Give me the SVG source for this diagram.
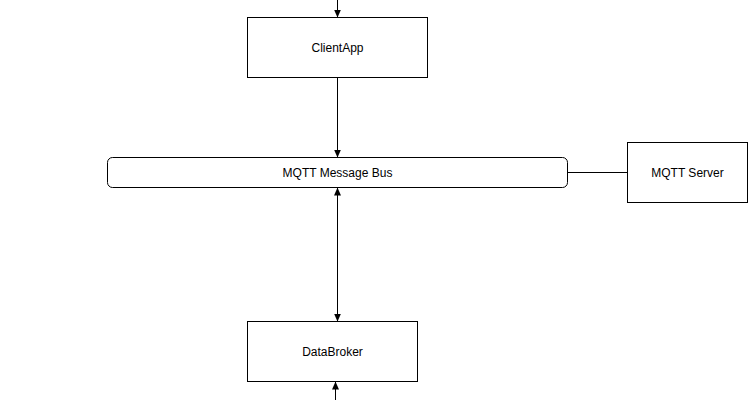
<svg xmlns="http://www.w3.org/2000/svg" width="748" height="400" viewBox="0 0 748 400">
<style>
.n{fill:#fff;stroke:#000;stroke-width:1}
.t{font-family:"Liberation Sans",Arial,sans-serif;font-size:12px;fill:#000;text-anchor:middle;dominant-baseline:central}
.c{stroke:#000;stroke-width:1;fill:none}
</style>
<defs>
<marker id="ah" viewBox="0 0 8 8" refX="8" refY="4" markerWidth="8" markerHeight="8" markerUnits="userSpaceOnUse" orient="auto-start-reverse">
<path d="M0,0.5 L8,4 L0,7.5 Z" fill="#000"/>
</marker>
</defs>
<rect width="748" height="400" fill="#fff"/>
<g id="connectors">
<line class="c" x1="337.5" y1="0" x2="337.5" y2="17.5" marker-end="url(#ah)"/>
<line class="c" x1="337.5" y1="77.5" x2="337.5" y2="157.5" marker-end="url(#ah)"/>
<line class="c" x1="567.5" y1="172.5" x2="627.5" y2="172.5"/>
<line class="c" x1="337.5" y1="187.5" x2="337.5" y2="321.5" marker-start="url(#ah)" marker-end="url(#ah)"/>
<line class="c" x1="335.5" y1="400" x2="335.5" y2="381.5" marker-end="url(#ah)"/>
</g>
<g id="clientapp">
<rect class="n" x="247.5" y="17.5" width="180" height="60"/>
<text class="t" x="337.5" y="47.5">ClientApp</text>
</g>
<g id="bus">
<rect class="n" x="107.5" y="157.5" width="460" height="30" rx="5" ry="5"/>
<text class="t" x="337.5" y="172.5">MQTT Message Bus</text>
</g>
<g id="mqttserver">
<rect class="n" x="627.5" y="142.5" width="120" height="60"/>
<text class="t" x="687.5" y="172.5">MQTT Server</text>
</g>
<g id="databroker">
<rect class="n" x="247.5" y="321.5" width="170" height="60"/>
<text class="t" x="332.5" y="351.5">DataBroker</text>
</g>
</svg>
